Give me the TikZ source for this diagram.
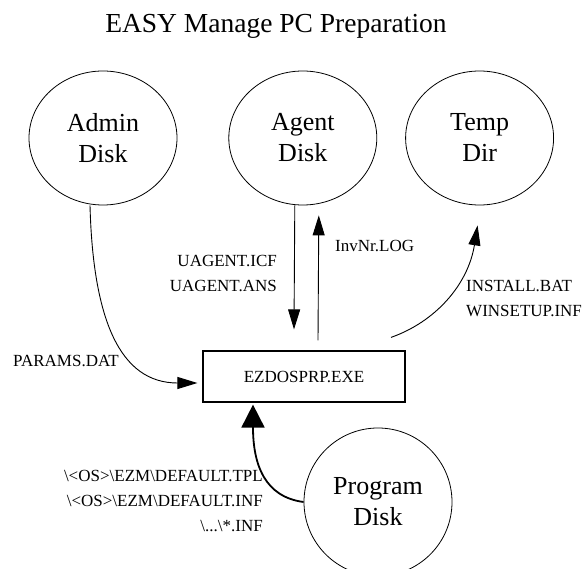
\documentclass[tikz,border=0pt]{standalone}
\usepackage{fontspec}
\setmainfont{Liberation Serif}
\usetikzlibrary{positioning,arrows.meta,shapes.geometric}
\newcommand{\bsl}{\textbackslash}

\begin{document}
\begin{tikzpicture}[
    x=1pt, y=-1pt,
    >={Triangle[length=20pt,width=12pt]},
    disk/.style={
        ellipse, draw, line width=0.8pt, minimum width=148pt, minimum height=134pt,
        inner sep=0pt, align=center, font=\fontsize{26}{31}\selectfont
    },
    prog/.style={
        rectangle, draw, line width=1.2pt, minimum width=202pt, minimum height=51pt,
        font=\fontsize{17}{20}\selectfont
    },
    file/.style={inner sep=0pt, font=\fontsize{17}{25}\selectfont},
    flow/.style={->, line width=0.9pt},
    bigflow/.style={-{Triangle[length=23pt,width=23pt]}, line width=1.8pt}
]
\useasboundingbox (0,0) rectangle (587,569);

\node[anchor=base, font=\fontsize{27.5}{33}\selectfont] (title) at (276,33) {EASY Manage PC Preparation};

\node[disk] (admin) at (103,138) {Admin\\Disk};
\node[disk, right=51pt of admin] (agent) {Agent\\Disk};
\node[disk, right=28pt of agent] (temp) {Temp\\Dir};

\node[prog] (ezdos) at (304,376.5) {EZDOSPRP.EXE};
\node[disk, minimum height=148pt] (program) at (378,502) {Program\\Disk};

% file names
\node[file, anchor=base west] (params) at (13,367) {PARAMS.DAT};
\node[file, anchor=north east, align=right] (uagent) at (277,255) {UAGENT.ICF\\UAGENT.ANS};
\node[file, anchor=base west] (invnr) at (335,252) {InvNr.LOG};
\node[file, anchor=north west, align=left] (install) at (466,280) {INSTALL.BAT\\WINSETUP.INF};
\node[file, anchor=north east, align=right] (defaults) at (263,470)
    {\bsl{}<OS>\bsl{}EZM\bsl{}DEFAULT.TPL\\\bsl{}<OS>\bsl{}EZM\bsl{}DEFAULT.INF\\\bsl{}...\bsl{}*.INF};

% connectors
\draw[flow] ([xshift=-13pt]admin.south) .. controls (93,320) and (120,383) .. ([xshift=-5pt,yshift=-6.5pt]ezdos.west);
\draw[flow] ([xshift=-8pt]agent.south) -- ([xshift=-10pt,yshift=21pt]ezdos.north);
\draw[flow] ([xshift=14pt,yshift=10pt]ezdos.north) -- ([xshift=16pt,yshift=-10pt]agent.south);
\draw[flow] ([xshift=87pt,yshift=13pt]ezdos.north) .. controls (435,322) and (468,285) .. ([xshift=-2pt,yshift=-20pt]temp.south);
\draw[bigflow] (program.west) .. controls (265,497) and (253,465) .. ([xshift=-51pt,yshift=-2pt]ezdos.south);

\end{tikzpicture}
\end{document}
